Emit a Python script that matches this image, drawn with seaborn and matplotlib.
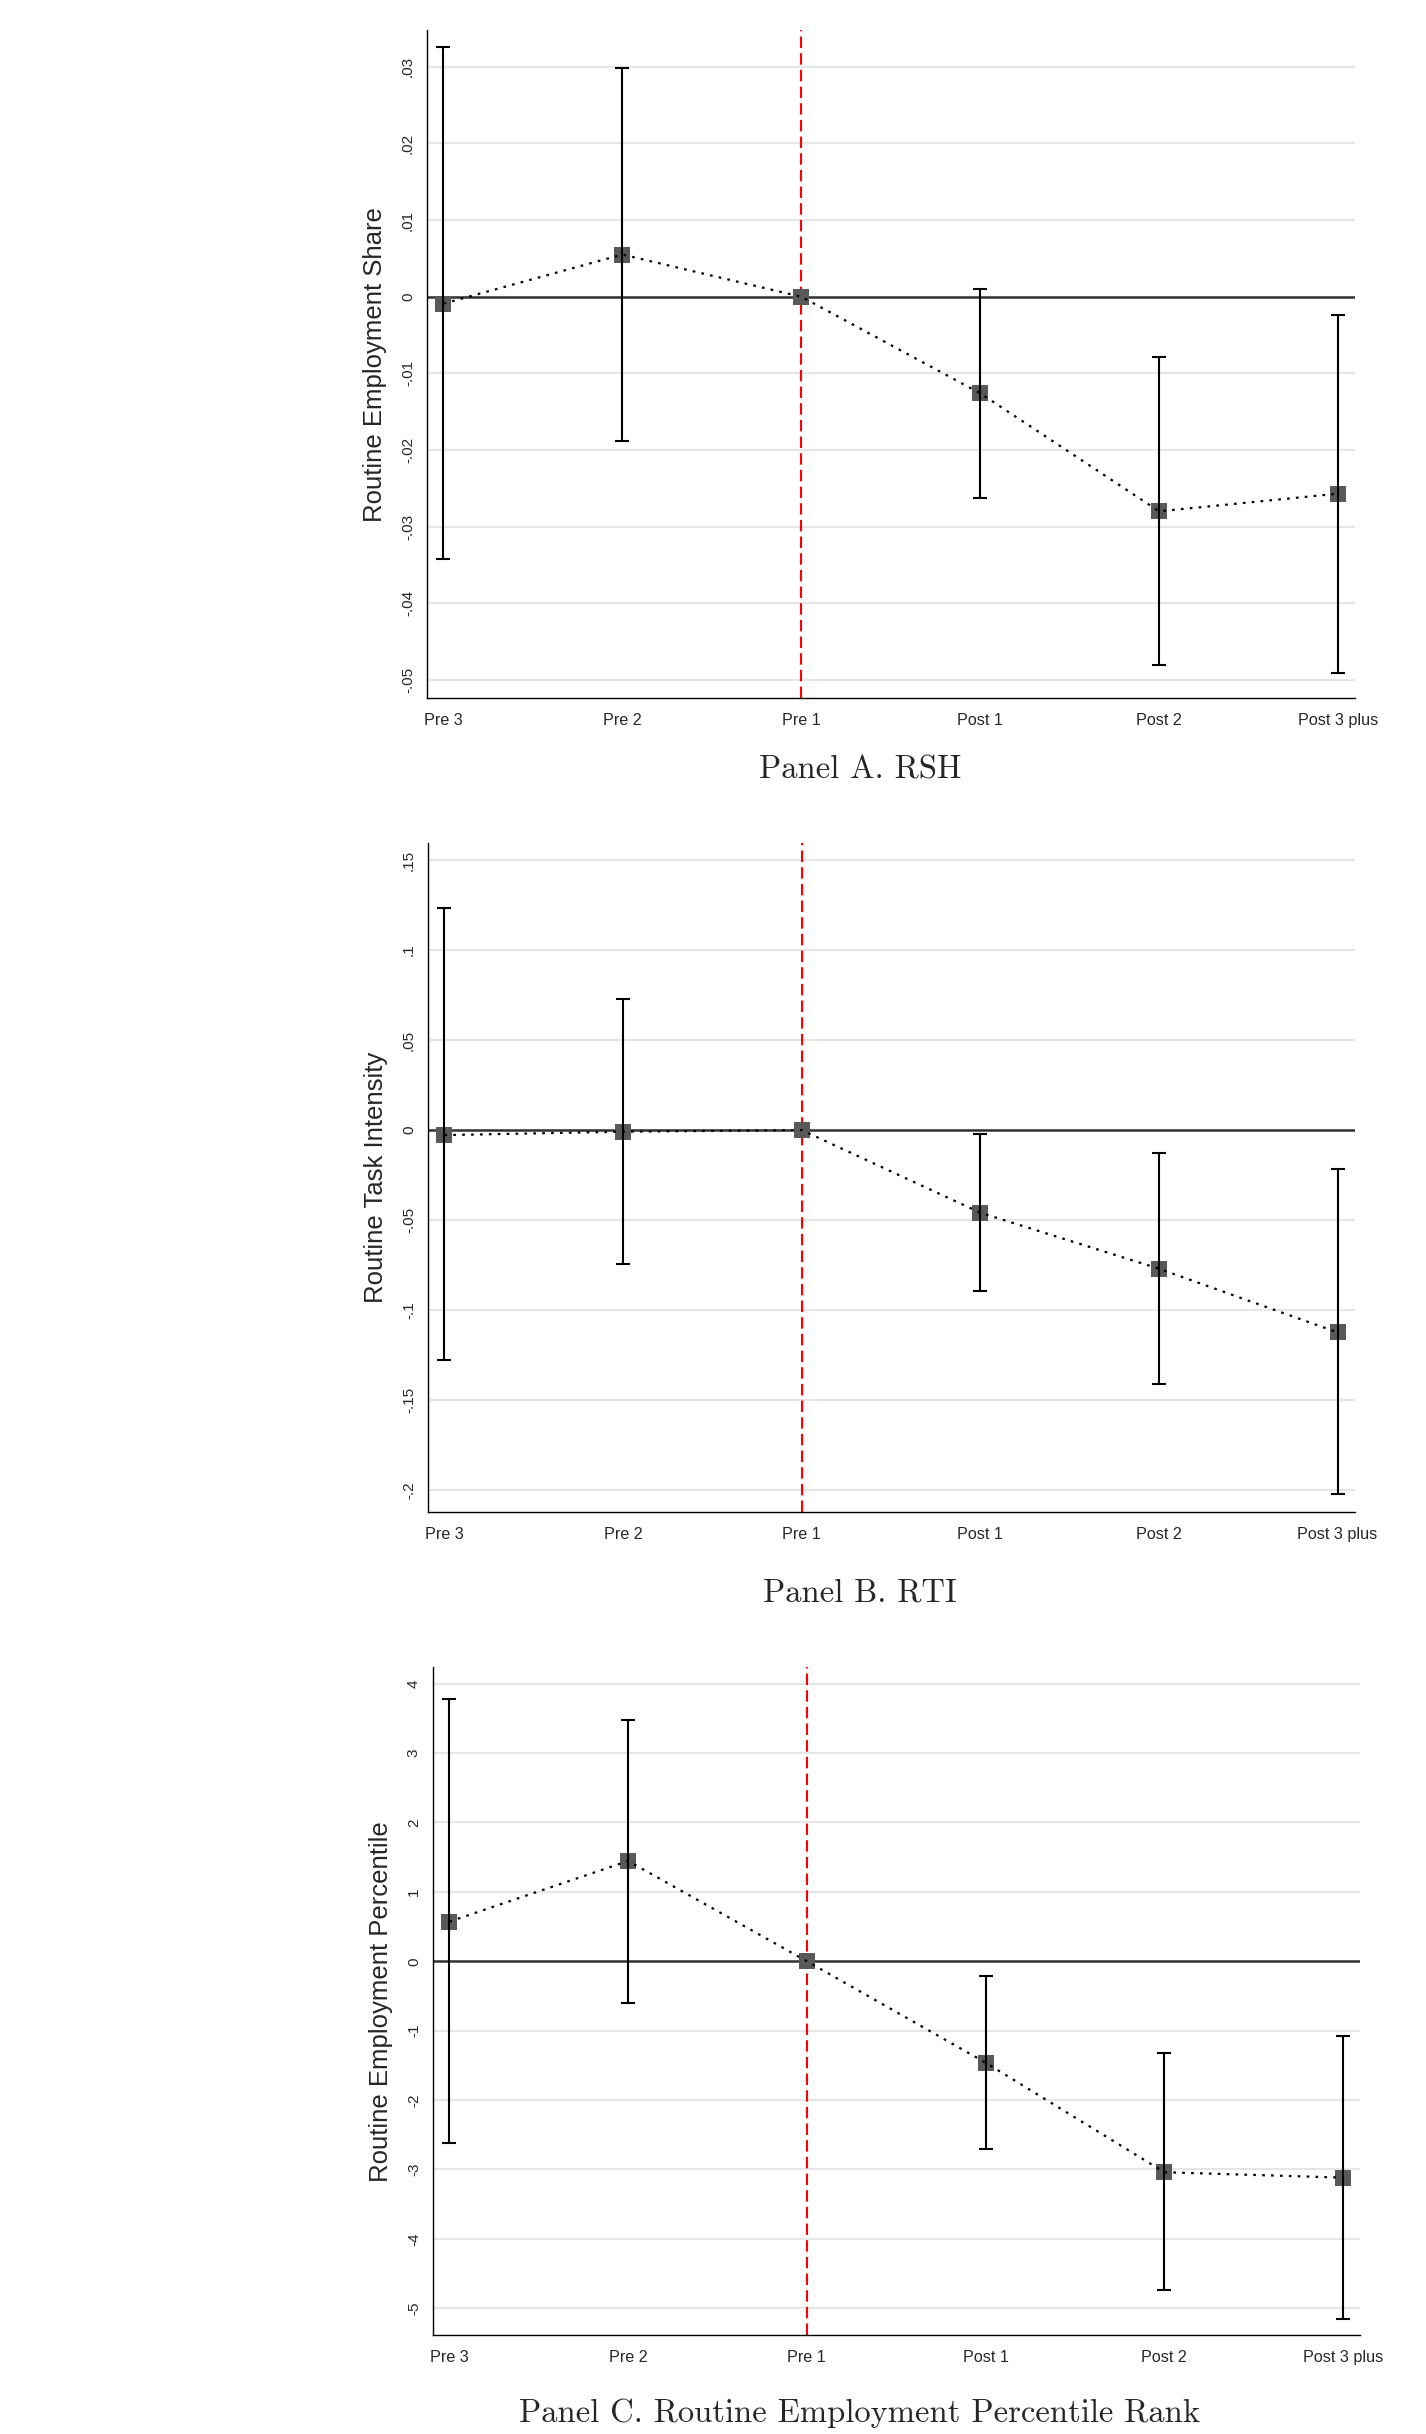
import matplotlib
matplotlib.use('Agg')
import matplotlib.pyplot as plt
import seaborn as sns

# event-time categories on the x axis
periods = ['Pre 3', 'Pre 2', 'Pre 1', 'Post 1', 'Post 2', 'Post 3 plus']

# Panel A: routine employment share (point estimates and 95% CI, Pre 1 is the reference)
rsh_coef = [-0.0009, 0.0055, 0.0, -0.0126, -0.0280, -0.0257]
rsh_low = [-0.0342, -0.0188, None, -0.0262, -0.0481, -0.0491]
rsh_high = [0.0326, 0.0299, None, 0.0010, -0.0079, -0.0024]
rsh_ticks = [0.03, 0.02, 0.01, 0.0, -0.01, -0.02, -0.03, -0.04, -0.05]
rsh_tick_labels = ['.03', '.02', '.01', '0', '-.01', '-.02', '-.03', '-.04', '-.05']

# Panel B: routine task intensity
rti_coef = [-0.0028, -0.0009, 0.0, -0.0459, -0.0770, -0.1124]
rti_low = [-0.1278, -0.0746, None, -0.0896, -0.1413, -0.2024]
rti_high = [0.1231, 0.0728, None, -0.0022, -0.0130, -0.0219]
rti_ticks = [0.15, 0.1, 0.05, 0.0, -0.05, -0.1, -0.15, -0.2]
rti_tick_labels = ['.15', '.1', '.05', '0', '-.05', '-.1', '-.15', '-.2']

# Panel C: routine employment percentile rank
rank_coef = [0.571, 1.445, 0.0, -1.461, -3.040, -3.118]
rank_low = [-2.618, -0.605, None, -2.709, -4.740, -5.150]
rank_high = [3.775, 3.480, None, -0.207, -1.326, -1.081]
rank_ticks = [4, 3, 2, 1, 0, -1, -2, -3, -4, -5]
rank_tick_labels = ['4', '3', '2', '1', '0', '-1', '-2', '-3', '-4', '-5']

sns.set_style('white')
plt.rcParams['font.family'] = ['Liberation Sans', 'DejaVu Sans']

W, H = 1426, 2434
fig = plt.figure(figsize=(W / 100, H / 100), dpi=100)


def draw_panel(box, coef, low, high, ticks, tick_labels, ylim, ylabel, title, title_y):
    left, top, right, bottom = box
    ax = fig.add_axes([left / W, 1 - bottom / H, (right - left) / W, (bottom - top) / H])
    x = list(range(len(periods)))

    ax.set_axisbelow(True)
    ax.grid(axis='y', color='#e6e6e6', lw=1.6)
    ax.grid(axis='x', visible=False)

    ax.axhline(0, color='#333333', lw=1.8, zorder=2)
    ax.axvline(2, color='red', lw=1.5, linestyle=(0, (5.5, 2.5)), zorder=2)

    # markers
    sns.scatterplot(x=x, y=coef, marker='s', s=135, color='#595959',
                    edgecolor='#595959', linewidth=0, zorder=3, ax=ax)

    # confidence intervals (skip the reference period)
    ci_x = [i for i in x if low[i] is not None]
    ci_y = [coef[i] for i in ci_x]
    err = [[coef[i] - low[i] for i in ci_x], [high[i] - coef[i] for i in ci_x]]
    ax.errorbar(ci_x, ci_y, yerr=err, fmt='none', ecolor='black', elinewidth=1.5,
                capsize=4.8, capthick=1.5, zorder=4)

    # dotted connecting line
    sns.lineplot(x=x, y=coef, color='black', lw=1.6, linestyle=(0, (1.2, 2.8)),
                 zorder=5, ax=ax)

    ax.set_xlim(-0.092, 5.095)
    ax.set_ylim(*ylim)
    ax.set_xticks(x)
    ax.set_xticklabels(periods, fontsize=11.6)
    ax.set_yticks(ticks)
    ax.set_yticklabels(tick_labels, fontsize=11, rotation=90, va='center')

    for s in ['top', 'right']:
        ax.spines[s].set_visible(False)
    for s in ['left', 'bottom']:
        ax.spines[s].set_color('black')
        ax.spines[s].set_linewidth(1.0)
    ax.tick_params(axis='x', length=7.2, width=1.0, pad=3.6, color='black')
    ax.tick_params(axis='y', length=7.2, width=1.0, pad=1.5, color='black')

    ax.set_ylabel(ylabel, fontsize=18.5)
    ax.yaxis.set_label_coords(-0.056, 0.5)
    ax.yaxis.label.set_va('center')

    fig.text(860 / W, 1 - title_y / H, title, family='cmr10', fontsize=23.5,
             ha='center', va='baseline')
    return ax


draw_panel((427, 30, 1355, 698.3), rsh_coef, rsh_low, rsh_high, rsh_ticks,
           rsh_tick_labels, (-0.0524, 0.0348), 'Routine Employment Share',
           'Panel A. RSH', 779)
draw_panel((428, 843.3, 1354.5, 1511.7), rti_coef, rti_low, rti_high, rti_ticks,
           rti_tick_labels, (-0.212, 0.1593), 'Routine Task Intensity',
           'Panel B. RTI', 1601)
draw_panel((433, 1667.3, 1360, 2335.3), rank_coef, rank_low, rank_high, rank_ticks,
           rank_tick_labels, (-5.39, 4.236), 'Routine Employment Percentile',
           'Panel C. Routine Employment Percentile Rank', 2422)

fig.savefig('out.png', dpi=100, facecolor='white')
